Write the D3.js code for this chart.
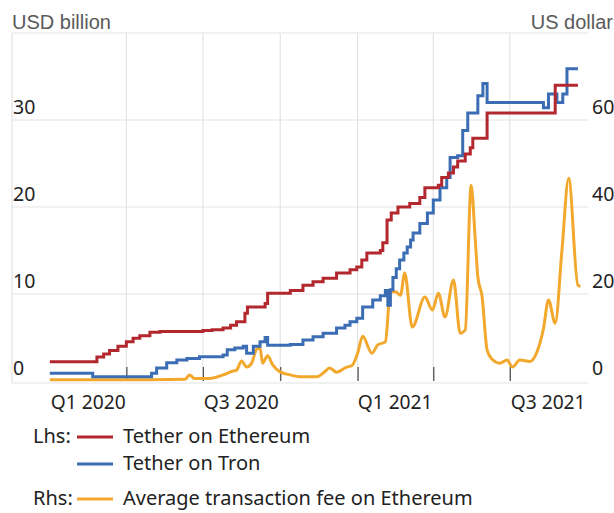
<!DOCTYPE html>
<html>
<head>
<meta charset="utf-8">
<script src="https://cdn.jsdelivr.net/npm/d3@7"></script>
<style>
  html, body { margin: 0; padding: 0; background: #fff; }
  svg { display: block; }
</style>
</head>
<body>
<svg id="chart" width="614" height="513"></svg>
<script>
// ---- data ----
const tetherEthereum = [
  ["2020-01-01", 2.2], ["2020-02-20", 2.2], ["2020-02-26", 2.75], ["2020-03-05", 3.1],
  ["2020-03-12", 3.5], ["2020-03-22", 4.0], ["2020-04-01", 4.5], ["2020-04-09", 4.9],
  ["2020-04-17", 5.2], ["2020-04-29", 5.6], ["2020-05-11", 5.7], ["2020-07-01", 5.8],
  ["2020-07-12", 5.9], ["2020-07-25", 6.1], ["2020-08-03", 6.4], ["2020-08-10", 6.8],
  ["2020-08-20", 7.8], ["2020-08-23", 8.5], ["2020-09-13", 8.9], ["2020-09-16", 10.1],
  ["2020-10-13", 10.4], ["2020-10-28", 11.0], ["2020-11-09", 11.4], ["2020-11-21", 11.8],
  ["2020-12-07", 12.4], ["2020-12-23", 12.8], ["2020-12-31", 13.1], ["2021-01-06", 13.9],
  ["2021-01-12", 14.7], ["2021-01-28", 15.0], ["2021-01-31", 15.9], ["2021-02-05", 18.5],
  ["2021-02-10", 19.3], ["2021-02-18", 20.0], ["2021-03-04", 20.4], ["2021-03-16", 21.1],
  ["2021-03-22", 22.2], ["2021-04-07", 22.5], ["2021-04-11", 23.4], ["2021-04-19", 23.9],
  ["2021-04-25", 24.6], ["2021-04-30", 25.3], ["2021-05-09", 26.1], ["2021-05-15", 26.8],
  ["2021-05-18", 27.9], ["2021-06-04", 30.8], ["2021-08-24", 34.0], ["2021-09-20", 34.0]
];
const tetherTron = [
  ["2020-01-01", 0.9], ["2020-02-09", 0.9], ["2020-02-21", 0.5], ["2020-04-25", 0.5],
  ["2020-05-01", 0.9], ["2020-05-07", 1.5], ["2020-05-19", 2.1], ["2020-05-31", 2.4],
  ["2020-06-12", 2.6], ["2020-06-27", 2.8], ["2020-07-25", 3.0], ["2020-07-30", 3.6],
  ["2020-08-08", 3.8], ["2020-08-18", 4.0], ["2020-08-22", 3.2], ["2020-08-30", 4.0],
  ["2020-09-07", 4.5], ["2020-09-13", 5.0], ["2020-09-16", 4.1], ["2020-10-13", 4.2],
  ["2020-10-28", 4.7], ["2020-11-09", 5.1], ["2020-11-21", 5.5], ["2020-12-07", 6.1],
  ["2020-12-17", 6.4], ["2020-12-23", 6.8], ["2020-12-31", 7.2], ["2021-01-07", 8.5],
  ["2021-01-19", 9.3], ["2021-01-28", 9.8], ["2021-02-03", 10.4], ["2021-02-06", 8.7],
  ["2021-02-09", 10.5], ["2021-02-12", 11.9], ["2021-02-16", 12.9], ["2021-02-20", 13.9],
  ["2021-02-25", 14.7], ["2021-03-01", 15.4], ["2021-03-05", 16.2], ["2021-03-08", 17.0],
  ["2021-03-16", 18.1], ["2021-03-25", 19.3], ["2021-04-01", 20.8], ["2021-04-09", 22.2],
  ["2021-04-17", 23.4], ["2021-04-21", 25.7], ["2021-04-30", 25.9], ["2021-05-06", 28.8],
  ["2021-05-12", 30.8], ["2021-05-24", 32.8], ["2021-05-30", 34.2], ["2021-06-04", 32.0],
  ["2021-08-10", 31.4], ["2021-08-16", 33.0], ["2021-08-26", 32.0], ["2021-09-02", 33.0],
  ["2021-09-07", 35.9], ["2021-09-20", 35.9]
];
const ethereumFee = [
  ["2020-01-01", 0.3], ["2020-02-29", 0.3], ["2020-04-29", 0.3], ["2020-06-10", 0.4],
  ["2020-06-15", 1.4], ["2020-06-21", 0.6], ["2020-07-09", 0.6], ["2020-07-25", 1.4],
  ["2020-08-06", 2.3], ["2020-08-10", 2.5], ["2020-08-16", 4.6], ["2020-08-22", 3.2],
  ["2020-08-28", 4.1], ["2020-09-03", 7.3], ["2020-09-07", 7.6], ["2020-09-10", 4.1],
  ["2020-09-16", 5.8], ["2020-09-22", 3.7], ["2020-10-01", 2.1], ["2020-10-13", 1.4],
  ["2020-10-24", 1.0], ["2020-11-14", 1.0], ["2020-11-21", 1.8], ["2020-11-29", 3.0],
  ["2020-12-07", 2.0], ["2020-12-19", 3.2], ["2020-12-25", 3.5], ["2021-01-01", 6.4],
  ["2021-01-07", 10.3], ["2021-01-18", 6.4], ["2021-01-25", 8.3], ["2021-02-03", 9.0],
  ["2021-02-09", 20.5], ["2021-02-15", 20.5], ["2021-02-21", 19.7], ["2021-02-26", 24.8],
  ["2021-03-07", 12.4], ["2021-03-22", 19.3], ["2021-03-31", 16.3], ["2021-04-07", 20.2],
  ["2021-04-15", 14.7], ["2021-04-25", 23.2], ["2021-05-03", 11.0], ["2021-05-09", 11.7],
  ["2021-05-16", 45.0], ["2021-05-21", 32.3], ["2021-05-24", 23.9], ["2021-05-29", 19.5],
  ["2021-06-04", 7.1], ["2021-06-10", 5.0], ["2021-06-19", 4.1], ["2021-06-28", 4.8],
  ["2021-07-04", 3.2], ["2021-07-13", 4.8], ["2021-07-25", 4.5], ["2021-08-03", 7.0],
  ["2021-08-10", 12.0], ["2021-08-16", 18.6], ["2021-08-24", 13.3], ["2021-09-01", 30.0],
  ["2021-09-09", 46.6], ["2021-09-20", 22.0], ["2021-09-23", 21.8]
];
const quarterTicks = ["2020-04-01", "2020-07-01", "2020-10-01", "2021-01-01", "2021-04-01", "2021-07-01"];
const quarterLabels = [["2020-02-15", "Q1 2020"], ["2020-08-15", "Q3 2020"], ["2021-02-14", "Q1 2021"], ["2021-08-15", "Q3 2021"]];
const leftTicks = [0, 10, 20, 30];
const rightTicks = [0, 20, 40, 60];
const leftUnit = "USD billion";
const rightUnit = "US dollar";

// ---- drawing ----
const parse = d3.timeParse("%Y-%m-%d");
const svg = d3.select("#chart");
const FONT = "'Noto Sans', 'Open Sans', sans-serif";
const RED = "#b2282e", BLUE = "#3b6db4", YEL = "#f1a82c";
const GRID = "#e3e3e3";

const x = d3.scaleTime().domain([parse("2019-11-17"), parse("2021-10-02")]).range([12, 588]);
const yL = d3.scaleLinear().domain([0, 40]).range([381, 33]);
const yR = d3.scaleLinear().domain([0, 80]).range([381, 33]);

// horizontal gridlines
svg.append("g").selectAll("line").data([10, 20, 30, 40]).join("line")
  .attr("x1", 12).attr("x2", 588)
  .attr("y1", d => yL(d)).attr("y2", d => yL(d))
  .attr("stroke", GRID).attr("stroke-width", 1.2);

// vertical gridlines (incl. left frame)
svg.append("g").selectAll("line").data(quarterTicks.map(parse)).join("line")
  .attr("x1", d => x(d)).attr("x2", d => x(d))
  .attr("y1", 33).attr("y2", 381)
  .attr("stroke", GRID).attr("stroke-width", 1.2);
svg.append("line").attr("x1", 12).attr("x2", 12).attr("y1", 33).attr("y2", 383)
  .attr("stroke", GRID).attr("stroke-width", 1.2);

// baseline
svg.append("line").attr("x1", 12).attr("x2", 588).attr("y1", yL(0) + 2).attr("y2", yL(0) + 2)
  .attr("stroke", GRID).attr("stroke-width", 1.2);

// x ticks (inward)
const xTickAxis = svg.append("g").attr("transform", `translate(0,${yL(0)})`)
  .call(d3.axisBottom(x).tickValues(quarterTicks.map(parse)).tickSize(-14).tickFormat(""));
xTickAxis.select(".domain").remove();
xTickAxis.selectAll("line").attr("stroke", "#555").attr("stroke-width", 1.3);

// x labels
const xLabAxis = svg.append("g").attr("transform", `translate(0,${yL(0)})`)
  .call(d3.axisBottom(x).tickValues(quarterLabels.map(d => parse(d[0])))
    .tickSize(0).tickPadding(0)
    .tickFormat((d, i) => quarterLabels[i][1]));
xLabAxis.select(".domain").remove();
xLabAxis.selectAll("text").attr("y", 28).attr("dy", 0)
  .attr("font-family", FONT).attr("font-size", 19.2).attr("fill", "#222");

// left y labels
const yLAxis = svg.append("g").attr("transform", "translate(13,0)")
  .call(d3.axisRight(yL).tickValues(leftTicks).tickSize(0).tickPadding(0));
yLAxis.select(".domain").remove();
yLAxis.selectAll("text").attr("dy", -7).attr("font-family", FONT).attr("font-size", 19.5).attr("fill", "#222");

// right y labels
const yRAxis = svg.append("g").attr("transform", "translate(592,0)")
  .call(d3.axisRight(yR).tickValues(rightTicks).tickSize(0).tickPadding(0));
yRAxis.select(".domain").remove();
yRAxis.selectAll("text").attr("dy", -7).attr("font-family", FONT).attr("font-size", 19.5).attr("fill", "#222");

// units
svg.append("text").attr("x", 12).attr("y", 29).text(leftUnit)
  .attr("font-family", "'Liberation Sans', Arial, sans-serif").attr("font-size", 20).attr("fill", "#5a5a5a");
svg.append("text").attr("x", 613).attr("y", 29).attr("text-anchor", "end").text(rightUnit)
  .attr("font-family", "'Liberation Sans', Arial, sans-serif").attr("font-size", 20).attr("fill", "#5a5a5a");

// lines
const stepL = d3.line().x(d => x(parse(d[0]))).y(d => yL(d[1])).curve(d3.curveStepAfter);
const lineR = d3.line().x(d => x(parse(d[0]))).y(d => yR(d[1])).curve(d3.curveMonotoneX);

svg.append("path").datum(ethereumFee).attr("d", lineR)
  .attr("fill", "none").attr("stroke", YEL).attr("stroke-width", 3).attr("stroke-linejoin", "round");
svg.append("path").datum(tetherTron).attr("d", stepL)
  .attr("fill", "none").attr("stroke", BLUE).attr("stroke-width", 3);
svg.append("path").datum(tetherEthereum).attr("d", stepL)
  .attr("fill", "none").attr("stroke", RED).attr("stroke-width", 3);

// legend
const legend = [
  { pre: "Lhs:", label: "Tether on Ethereum", color: RED, y: 436 },
  { pre: "", label: "Tether on Tron", color: BLUE, y: 463 },
  { pre: "Rhs:", label: "Average transaction fee on Ethereum", color: YEL, y: 498 }
];
const lg = svg.append("g").selectAll("g").data(legend).join("g");
lg.append("text").attr("x", 33).attr("y", d => d.y).attr("dy", "0.35em").text(d => d.pre)
  .attr("font-family", FONT).attr("font-size", 20).attr("fill", "#222");
lg.append("line").attr("x1", 77).attr("x2", 113).attr("y1", d => d.y + 1).attr("y2", d => d.y + 1)
  .attr("stroke", d => d.color).attr("stroke-width", 3);
lg.append("text").attr("x", 123).attr("y", d => d.y).attr("dy", "0.35em").text(d => d.label)
  .attr("font-family", FONT).attr("font-size", 20).attr("fill", "#222");
</script>
</body>
</html>
